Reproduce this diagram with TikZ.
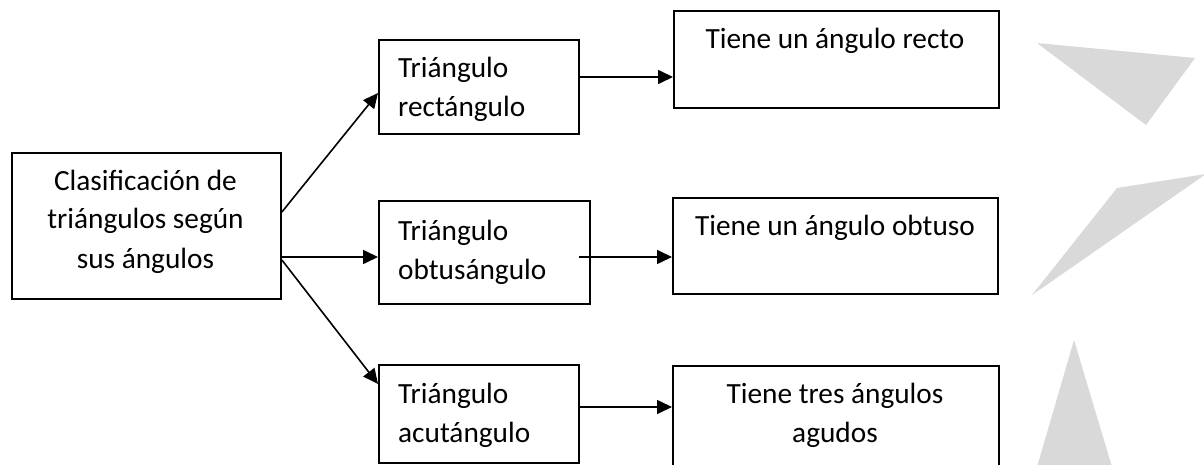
\documentclass[tikz,border=0pt]{standalone}
\usepackage{fontspec}
\setmainfont{Carlito}
\usetikzlibrary{arrows.meta}
\definecolor{shade}{HTML}{D9D9D9}
\tikzset{
  boxnode/.style={draw=black, line width=1.9pt, inner sep=0pt, anchor=north west},
  txt/.style={inner sep=0pt, font=\fontsize{29.3}{39}\selectfont},
  conn/.style={line width=1.6pt, -{Triangle[length=15pt,width=14pt]}},
  deco/.style={fill=shade, draw=none}
}
\begin{document}
\begin{tikzpicture}[x=1pt,y=-1pt]
\useasboundingbox (0,0) rectangle (1204,465);
\fill[white] (0,0) rectangle (1204,465);
\begin{scope}
\clip (0,0) rectangle (1204,465);
% boxes
\node[boxnode, minimum width=269pt, minimum height=146pt] (main) at (11,152) {};
\node[boxnode, minimum width=200pt, minimum height=94pt] (rect) at (378,39) {};
\node[boxnode, minimum width=211pt, minimum height=103pt] (obtus) at (378,200) {};
\node[boxnode, minimum width=200pt, minimum height=98pt] (acut) at (378,364) {};
\node[boxnode, minimum width=325pt, minimum height=97pt] (recto) at (673,10) {};
\node[boxnode, minimum width=325pt, minimum height=96pt] (obtuso) at (672,197) {};
\node[boxnode, minimum width=326pt, minimum height=115pt] (agudos) at (672,365) {};
% texts
\node[txt, anchor=base] (m1) at (145.5,190) {Clasificación de};
\node[txt, anchor=base] (m2) at (145.5,229) {triángulos según};
\node[txt, anchor=base] (m3) at (145.5,268) {sus ángulos};
\node[txt, anchor=base west] (r1) at (398,78) {Triángulo};
\node[txt, anchor=base west] (r2) at (398,117) {rectángulo};
\node[txt, anchor=base west] (o1) at (398,240) {Triángulo};
\node[txt, anchor=base west] (o2) at (398,279) {obtusángulo};
\node[txt, anchor=base west] (a1) at (398,403) {Triángulo};
\node[txt, anchor=base west] (a2) at (398,442) {acutángulo};
\node[txt, anchor=base] (t1) at (835,49) {Tiene un ángulo recto};
\node[txt, anchor=base] (t2) at (835,235) {Tiene un ángulo obtuso};
\node[txt, anchor=base] (t3) at (835,403) {Tiene tres ángulos};
\node[txt, anchor=base] (t4) at (835,442) {agudos};
% connectors
\draw[conn] ([yshift=-60pt]main.north east) -- ([yshift=-54pt]rect.north west);
\draw[conn] ([yshift=-105pt]main.north east) -- ([yshift=-57pt]obtus.north west);
\draw[conn] ([yshift=-108pt]main.north east) -- ([yshift=-20pt]acut.north west);
\draw[conn] ([yshift=-38pt]rect.north east) -- ([yshift=-67pt]recto.north west);
\draw[conn] ([xshift=-12pt,yshift=-57pt]obtus.north east) -- ([yshift=-60pt]obtuso.north west);
\draw[conn] ([xshift=-2pt,yshift=-43pt]acut.north east) -- ([yshift=-42pt]agudos.north west);
% decorative triangles
\fill[deco] (1037,43) -- (1195,58) -- (1146,125) -- cycle;
\fill[deco] (1117,188) -- (1206,174) -- (1032,295) -- cycle;
\fill[deco] (1074,340) -- (1112,467) -- (1037,467) -- cycle;
\end{scope}
\end{tikzpicture}
\end{document}
